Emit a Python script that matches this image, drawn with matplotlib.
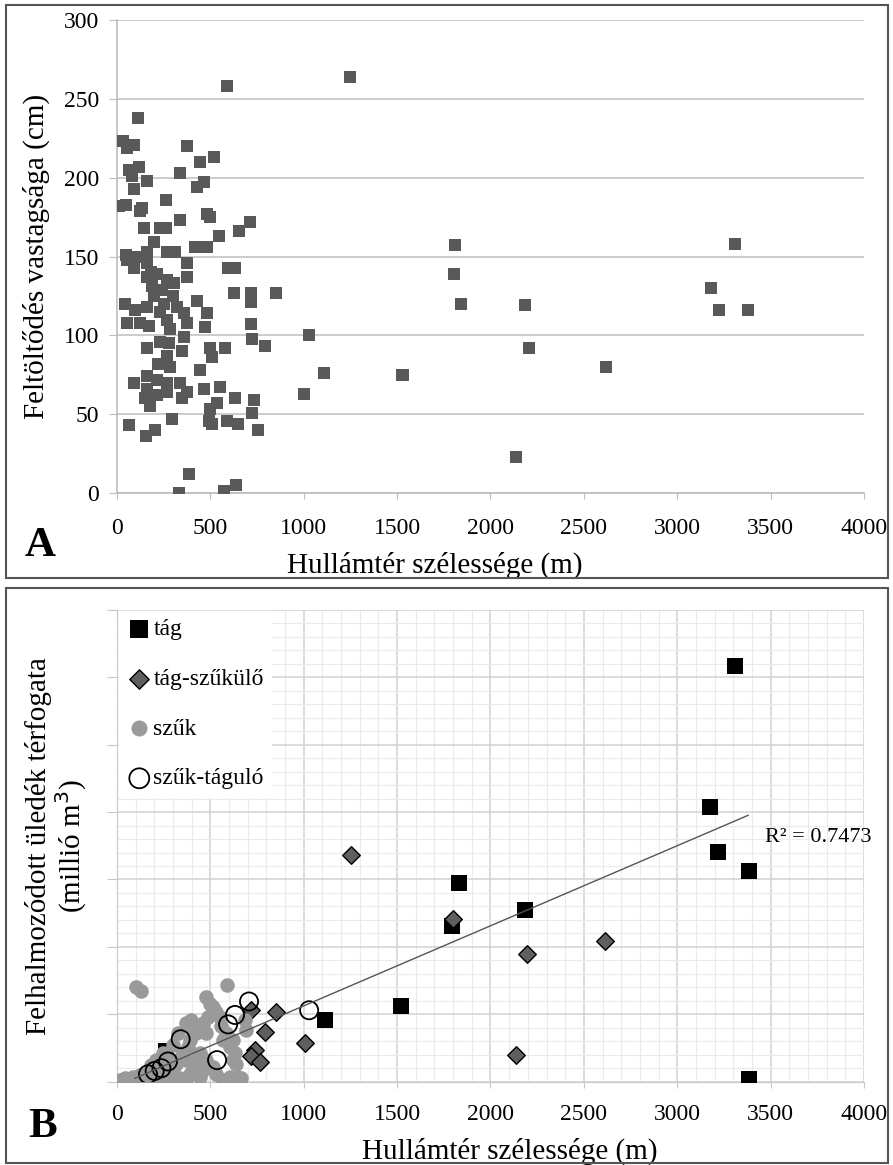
import numpy as np
import matplotlib
matplotlib.use("Agg")
from matplotlib import pyplot as plt
from matplotlib.patches import Rectangle
from matplotlib.ticker import MultipleLocator

plt.rcParams["font.family"] = ["Liberation Serif", "DejaVu Serif"]

# --- A panel: floodplain width (m) vs. fill thickness (cm)
a_width = [589, 1250, 112, 32, 54, 89, 375, 446, 518, 62, 116, 80, 161, 336, 89, 429, 468,
           12, 50, 134, 125, 262, 482, 500, 336, 711, 146, 232, 262, 545, 652, 200, 46, 54,
           107, 161, 268, 312, 420, 482, 89, 161, 375, 593, 634, 161, 214, 268, 188, 241,
           304, 375, 625, 718, 718, 854, 45, 98, 161, 54, 125, 170, 268, 286, 357, 375, 429,
           482, 473, 718, 723, 795, 1027, 161, 232, 357, 348, 500, 580, 509, 268, 286, 446,
           1111, 1527, 89, 161, 214, 268, 161, 214, 268, 179, 375, 348, 468, 554, 536, 500,
           634, 736, 723, 1000, 295, 62, 205, 155, 491, 509, 589, 646, 755, 384, 334, 571,
           637, 1809, 1804, 1840, 2187, 2205, 2139, 2620, 3310, 3182, 3221, 3381, 1533,
           200, 230, 250, 280, 300, 180, 220, 320, 340, 150]
a_thick = [258, 264, 238, 223, 219, 221, 220, 210, 213, 205, 207, 201, 198, 203, 193, 194, 197,
           182, 183, 181, 179, 186, 177, 175, 173, 172, 168, 168, 168, 163, 166, 159, 151, 148,
           150, 153, 153, 153, 156, 156, 143, 146, 146, 143, 143, 137, 139, 135, 131, 129,
           133, 137, 127, 127, 121, 127, 120, 116, 118, 108, 108, 106, 110, 104, 114, 108, 122,
           114, 105, 107, 98, 93, 100, 92, 96, 99, 90, 92, 92, 86, 87, 80, 78,
           76, 75, 70, 74, 72, 70, 66, 62, 64, 55, 64, 60, 66, 67, 57, 53,
           60, 59, 51, 63, 47, 43, 40, 36, 46, 44, 46, 44, 40, 12, 0, 1,
           5, 157, 139, 120, 119, 92, 23, 80, 158, 130, 116, 116, 75,
           125, 115, 120, 95, 125, 140, 82, 118, 70, 60]

# --- B panel: floodplain width (m) vs. accumulated sediment volume, by valley type
tag_x = [3307, 3176, 3218, 3382, 1833, 2184, 1794, 3382, 1112, 1523, 264]
tag_y = [6.17, 4.07, 3.41, 3.13, 2.95, 2.54, 2.31, 0.04, 0.92, 1.13, 0.45]

tagszuk_x = [1252, 1798, 2197, 2614, 2134, 720, 854, 791, 1005, 738, 720, 764]
tagszuk_y = [3.37, 2.41, 1.90, 2.09, 0.39, 1.06, 1.03, 0.73, 0.57, 0.47, 0.38, 0.29]

szuk_x = [14, 41, 59, 86, 104, 121, 139, 157, 175, 193, 211, 229, 246, 264, 282, 300, 318,
          336, 354, 371, 380, 389, 407, 425, 443, 461, 479, 488, 496, 514, 532, 550, 559,
          568, 586, 604, 621, 630, 639, 648, 666, 604, 568, 532, 514, 479, 443, 425, 407,
          389, 371, 336, 300, 264, 229, 175, 443, 461, 371, 398, 300, 327, 246, 211, 184,
          479, 621, 684, 693, 100, 130, 591]
szuk_y = [0.02, 0.05, 0.01, 0.07, 0.02, 0.10, 0.05, 0.12, 0.07, 0.02, 0.12, 0.17, 0.10, 0.22,
          0.32, 0.20, 0.27, 0.35, 0.42, 0.32, 0.52, 0.62, 0.77, 0.72, 0.82, 0.87, 0.72, 0.96,
          1.16, 1.11, 1.04, 0.96, 0.82, 0.62, 0.72, 0.52, 0.62, 0.42, 0.27, 0.07, 0.05, 0.07,
          0.02, 0.12, 0.22, 0.32, 0.42, 0.32, 0.22, 0.12, 0.02, 0.05, 0.02, 0.00, 0.02, 0.00,
          0.07, 0.17, 0.87, 0.91, 0.54, 0.72, 0.42, 0.32, 0.25, 1.26, 0.32, 0.91, 0.77, 1.41,
          1.34, 1.44]

szuktag_x = [707, 1029, 632, 595, 341, 536, 273, 238, 202, 166]
szuktag_y = [1.19, 1.06, 0.99, 0.85, 0.63, 0.32, 0.30, 0.20, 0.16, 0.11]

# linear trend (slope, intercept, x span)
trend_k = 0.001188
trend_b = -0.063
trend_span = [95, 3380]
r2_label = "R² = 0.7473"

fig = plt.figure(figsize=(8.93, 11.65), dpi=100)

# panel frames
fig.add_artist(Rectangle((0.0067, 0.5039), 0.9877, 0.4918, transform=fig.transFigure,
                         fill=False, edgecolor="#555555", lw=1.5))
fig.add_artist(Rectangle((0.0067, 0.0017), 0.9877, 0.4936, transform=fig.transFigure,
                         fill=False, edgecolor="#555555", lw=1.5))

# ---------------- panel A
ax1 = fig.add_axes([0.131, 0.5768, 0.8365, 0.406])
ax1.scatter(a_width, a_thick, marker="s", s=85, color="#595959", linewidths=0, zorder=3)
ax1.set_xlim(0, 4000)
ax1.set_ylim(0, 300)
ax1.xaxis.set_major_locator(MultipleLocator(500))
ax1.yaxis.set_major_locator(MultipleLocator(50))
ax1.grid(axis="y", color="#c4c4c4", lw=1.2)
ax1.set_axisbelow(True)
for s in ["top", "right"]:
    ax1.spines[s].set_visible(False)
for s in ["left", "bottom"]:
    ax1.spines[s].set_color("#bdbdbd")
    ax1.spines[s].set_linewidth(1.2)
ax1.tick_params(axis="x", length=4, pad=14, color="#bdbdbd", labelsize=17)
ax1.tick_params(axis="y", length=6, pad=7, color="#bdbdbd", labelsize=17)
ax1.set_xlabel("Hullámtér szélessége (m)", fontsize=21)
ax1.xaxis.set_label_coords(0.426, -0.125)
ax1.set_ylabel("Feltöltődés vastagsága (cm)", fontsize=21)
ax1.yaxis.set_label_coords(-0.09, 0.5)
fig.text(0.045, 0.531, "A", fontsize=31, fontweight="bold", ha="center", va="center")

# ---------------- panel B
ax2 = fig.add_axes([0.131, 0.0715, 0.8365, 0.405])
ax2.scatter(tag_x, tag_y, marker="s", s=130, color="black", linewidths=0, zorder=3,
            label="tág")
ax2.scatter(tagszuk_x, tagszuk_y, marker="D", s=80, color="#5f5f5f", edgecolors="black",
            linewidths=1, zorder=4, label="tág-szűkülő")
ax2.scatter(szuk_x, szuk_y, marker="o", s=110, color="#9a9a9a", linewidths=0, zorder=5,
            label="szűk")
ax2.scatter(szuktag_x, szuktag_y, marker="o", s=170, facecolors="none", edgecolors="black",
            linewidths=1.3, zorder=6, label="szűk-táguló")

tx = np.array(trend_span, dtype=float)
ax2.plot(tx, trend_k * tx + trend_b, color="#555555", lw=1, zorder=7)
ax2.text(3470, 3.62, r2_label, fontsize=16, ha="left", va="center", zorder=8)

ax2.set_xlim(0, 4000)
ax2.set_ylim(0, 7)
ax2.xaxis.set_major_locator(MultipleLocator(500))
ax2.xaxis.set_minor_locator(MultipleLocator(100))
ax2.yaxis.set_major_locator(MultipleLocator(1))
ax2.yaxis.set_minor_locator(MultipleLocator(0.2))
ax2.grid(which="major", color="#d2d2d2", lw=1.1)
ax2.grid(which="minor", color="#ebebeb", lw=0.8)
ax2.set_axisbelow(True)
for s in ["top", "right"]:
    ax2.spines[s].set_visible(False)
for s in ["left", "bottom"]:
    ax2.spines[s].set_color("#c8c8c8")
ax2.tick_params(axis="x", which="major", length=4, pad=12, color="#c8c8c8", labelsize=17)
ax2.tick_params(axis="y", which="major", length=7, color="#c8c8c8", labelleft=False)
ax2.tick_params(which="minor", length=0)
ax2.set_xlabel("Hullámtér szélessége (m)", fontsize=21)
ax2.xaxis.set_label_coords(0.526, -0.118)
ax2.set_ylabel("Felhalmozódott üledék térfogata\n(millió m$^3$)", fontsize=21,
               linespacing=1.05)
ax2.yaxis.set_label_coords(-0.037, 0.5)

leg = ax2.legend(loc="upper left", bbox_to_anchor=(0.003, 0.997), fontsize=17, frameon=True,
                 fancybox=False, framealpha=1, edgecolor="white", borderaxespad=0.0,
                 handletextpad=0.05, labelspacing=1.2, handlelength=1.1, borderpad=0.3,
                 markerscale=1.1)
leg.set_zorder(10)
fig.text(0.048, 0.033, "B", fontsize=31, fontweight="bold", ha="center", va="center")

fig.savefig("out.png", dpi=100)
